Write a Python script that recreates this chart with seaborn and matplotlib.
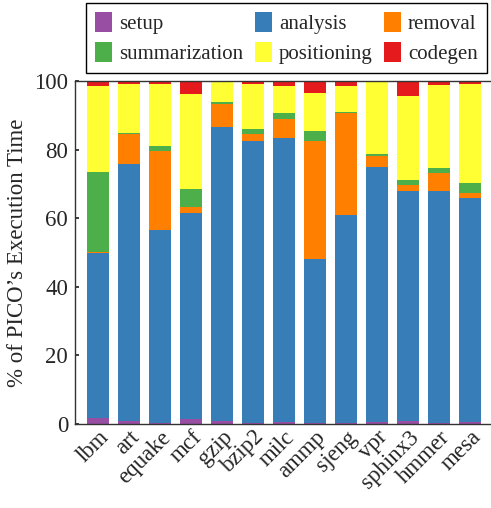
import numpy as np
import pandas as pd
import matplotlib
matplotlib.use("Agg")
import matplotlib.pyplot as plt
from matplotlib.patches import Patch
import seaborn as sns

benchmarks = ["lbm", "art", "equake", "mcf", "gzip", "bzip2", "milc",
              "ammp", "sjeng", "vpr", "sphinx3", "hmmer", "mesa"]

setup = [1.7, 0.9, 0.4, 1.5, 0.9, 0.4, 0.7, 0.3, 0.2, 0.6, 0.8, 0.4, 0.5]
analysis = [48.2, 74.9, 56.2, 60.1, 85.8, 82.2, 82.8, 47.7, 60.6, 74.4, 67.2, 67.6, 65.5]
removal = [0.3, 8.7, 23.0, 1.8, 6.5, 1.9, 5.5, 34.6, 30.0, 3.1, 1.8, 5.2, 1.4]
summarization = [23.3, 0.3, 1.5, 5.1, 0.6, 1.4, 1.8, 2.8, 0.3, 0.7, 1.4, 1.4, 3.0]
positioning = [25.0, 14.2, 17.9, 27.7, 5.8, 13.3, 7.8, 11.1, 7.4, 20.8, 24.5, 24.2, 28.8]
codegen = [1.8, 1.0, 1.0, 3.8, 0.4, 0.8, 1.4, 3.5, 1.5, 0.4, 4.3, 1.2, 0.8]

phases = ["setup", "analysis", "removal", "summarization", "positioning", "codegen"]
colors = ["#984ea3", "#377eb8", "#ff7f00", "#4daf4a", "#ffff33", "#e41a1c"]

df = pd.DataFrame({"benchmark": benchmarks, "setup": setup, "analysis": analysis,
                   "removal": removal, "summarization": summarization,
                   "positioning": positioning, "codegen": codegen})
cum = df[phases].cumsum(axis=1)
cum["benchmark"] = df["benchmark"]

sns.set_theme(style="white")
plt.rcParams["font.family"] = ["Liberation Serif", "DejaVu Serif"]
fs = 16.5

fig = plt.figure(figsize=(4.91, 5.08), dpi=100)
ax = fig.add_axes([75 / 491, 84 / 508, 418 / 491, 343 / 508])

# draw from the top segment down so each shorter bar covers the one behind it
for ph, c in reversed(list(zip(phases, colors))):
    sns.barplot(data=cum, x="benchmark", y=ph, color=c, saturation=1,
                width=0.73, linewidth=0, ax=ax)

ax.set_ylim(0, 100)
ax.set_xlim(-0.74, len(benchmarks) - 1 + 0.74)
ax.set_yticks([0, 20, 40, 60, 80, 100])
ax.set_xlabel("")
ax.set_ylabel("% of PICO’s Execution Time", fontsize=fs, labelpad=4)
ax.tick_params(axis="y", labelsize=fs, length=3, direction="in", left=True, pad=5)
ax.tick_params(axis="x", labelsize=fs, length=0, pad=2)
plt.setp(ax.get_xticklabels(), rotation=45, ha="right", rotation_mode="anchor")
for s in ax.spines.values():
    s.set_color("#333333")
    s.set_linewidth(1.0)

# matplotlib fills legend columns first; reorder so rows read like the original
order = [0, 3, 1, 4, 2, 5]
handles = [Patch(facecolor=colors[i], edgecolor="none", label=phases[i]) for i in order]
leg = fig.legend(handles=handles, ncol=3, loc="upper left",
                 bbox_to_anchor=(86 / 491, 1 - 3 / 508),
                 fancybox=False, framealpha=1, edgecolor="black", fontsize=15,
                 handlelength=0.8, handleheight=1.1, handletextpad=0.35,
                 columnspacing=0.55, borderpad=0.45, borderaxespad=0,
                 labelspacing=0.35)
leg.get_frame().set_linewidth(1.0)

fig.savefig("out.png", dpi=100)
